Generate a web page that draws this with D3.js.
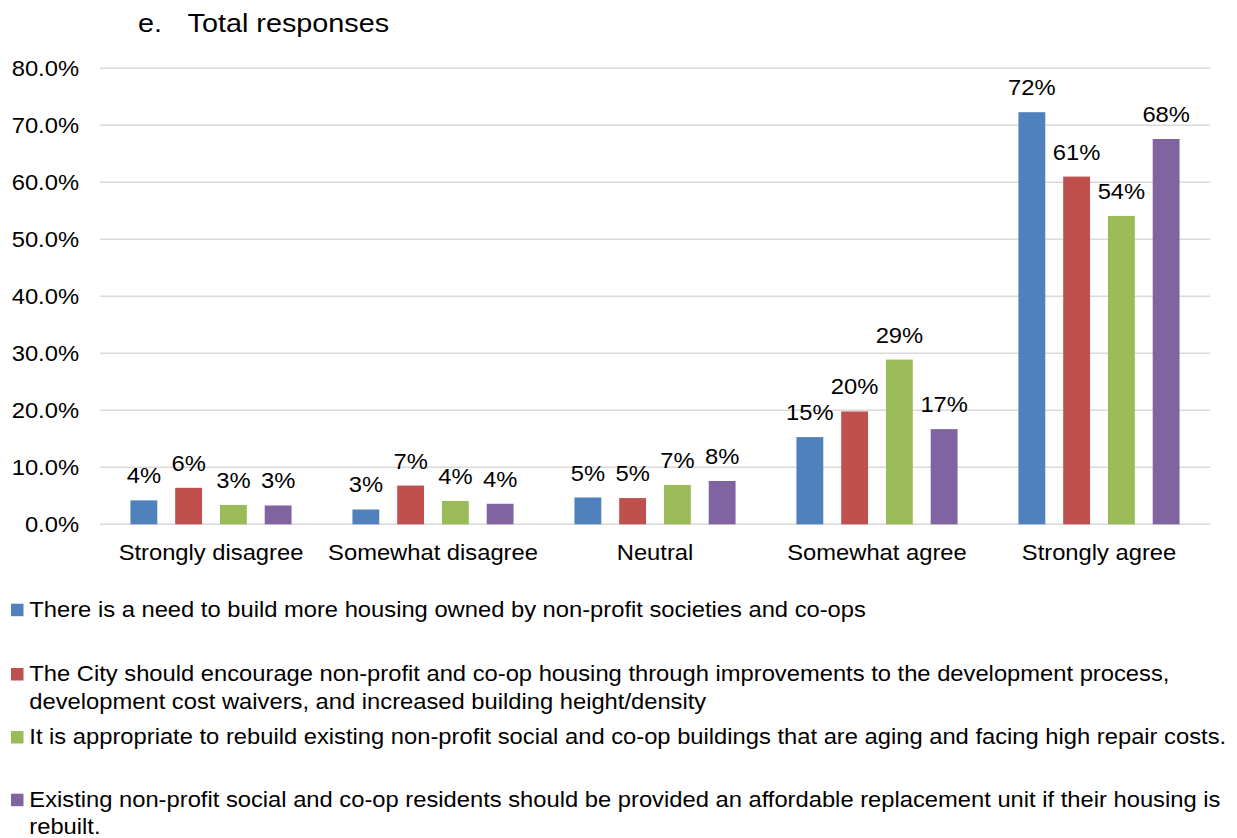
<!DOCTYPE html>
<html>
<head>
<meta charset="utf-8">
<script src="https://cdn.jsdelivr.net/npm/d3@7"></script>
<style>
  html, body { margin: 0; padding: 0; background: #fff; }
  svg { display: block; }
  text { font-family: "Liberation Sans", Arial, sans-serif; fill: #000; }
</style>
</head>
<body>
<svg id="chart" width="1237" height="838"></svg>
<script>
// Response categories along the x axis
const categories = ["Strongly disagree", "Somewhat disagree", "Neutral", "Somewhat agree", "Strongly agree"];

// Share of responses (%) per statement, one array per statement
const needMoreHousing   = [4.2, 2.6, 4.7, 15.3, 72.3];
const encourageCity     = [6.4, 6.8, 4.6, 19.8, 61.0];
const rebuildAging      = [3.4, 4.1, 6.9, 28.9, 54.1];
const replacementUnits  = [3.3, 3.6, 7.6, 16.7, 67.6];

// Legend wording, split into the lines it wraps to
const legendLines = [
  ["There is a need to build more housing owned by non-profit societies and co-ops"],
  ["The City should encourage non-profit and co-op housing through improvements to the development process,",
   "development cost waivers, and increased building height/density"],
  ["It is appropriate to rebuild existing non-profit social and co-op buildings that are aging and facing high repair costs."],
  ["Existing non-profit social and co-op residents should be provided an affordable replacement unit if their housing is",
   "rebuilt."]
];

const yTicks = [0, 10, 20, 30, 40, 50, 60, 70, 80];
const colors = ["#4F81BD", "#C0504D", "#9BBB59", "#8064A2"];

const seriesKeys = ["need", "encourage", "rebuild", "replace"];
const seriesValues = [needMoreHousing, encourageCity, rebuildAging, replacementUnits];

const table = categories.map((c, i) => {
  const row = { category: c };
  seriesKeys.forEach((k, j) => row[k] = seriesValues[j][i]);
  return row;
});

const svg = d3.select("#chart");
const stretch = 1.08;   // slightly wide type
const fontSize = 22;

const plot = { left: 100, right: 1210, top: 68.3, bottom: 524.3 };

const x0 = d3.scaleBand().domain(categories).range([plot.left, plot.right]).padding(0);
const x1 = d3.scaleBand().domain(seriesKeys).range([0, x0.bandwidth()])
  .paddingInner(0.4).paddingOuter(0.68);
const y = d3.scaleLinear().domain([0, 80]).range([plot.bottom, plot.top]);

// Title
svg.append("text")
  .attr("transform", `translate(138,32.3) scale(1.13,1)`)
  .style("font-size", "25.5px")
  .text("e.");
svg.append("text")
  .attr("transform", `translate(187.5,32.3) scale(1.13,1)`)
  .style("font-size", "25.5px")
  .text("Total responses");

// Horizontal gridlines
svg.append("g")
  .selectAll("line")
  .data(yTicks)
  .join("line")
  .attr("x1", plot.left).attr("x2", plot.right)
  .attr("y1", d => y(d)).attr("y2", d => y(d))
  .attr("stroke", "#D9D9D9")
  .attr("stroke-width", 1.5);

// Y axis tick labels
const yAxis = d3.axisLeft(y).tickValues(yTicks).tickSize(0).tickPadding(0)
  .tickFormat(d => d3.format(".1f")(d) + "%");
const yG = svg.append("g").attr("transform", `translate(79,0)`).call(yAxis);
yG.select(".domain").remove();
yG.selectAll(".tick text")
  .attr("x", null).attr("dy", null)
  .attr("transform", `translate(0,7.5) scale(${stretch},1)`)
  .style("font-size", fontSize + "px")
  .style("font-family", '"Liberation Sans", Arial, sans-serif')
  .attr("fill", "#000");

// X axis category labels
const xAxis = d3.axisBottom(x0).tickSize(0).tickPadding(0);
const xG = svg.append("g").attr("transform", `translate(0,${plot.bottom})`).call(xAxis);
xG.select(".domain").remove();
xG.selectAll(".tick text")
  .attr("y", null).attr("dy", null)
  .attr("transform", `translate(0,35.5) scale(${stretch},1)`)
  .style("font-size", fontSize + "px")
  .style("font-family", '"Liberation Sans", Arial, sans-serif')
  .attr("fill", "#000");

// Bars
const groups = svg.append("g")
  .selectAll("g")
  .data(table)
  .join("g")
  .attr("transform", d => `translate(${x0(d.category)},0)`);

groups.selectAll("rect")
  .data(d => seriesKeys.map((k, j) => ({ key: k, value: d[k], color: colors[j] })))
  .join("rect")
  .attr("x", d => x1(d.key))
  .attr("width", x1.bandwidth())
  .attr("y", d => y(d.value))
  .attr("height", d => y(0) - y(d.value))
  .attr("fill", d => d.color);

// Value labels above bars
groups.selectAll("text.val")
  .data(d => seriesKeys.map(k => ({ key: k, value: d[k] })))
  .join("text")
  .attr("class", "val")
  .attr("text-anchor", "middle")
  .attr("transform", d => `translate(${x1(d.key) + x1.bandwidth() / 2},${y(d.value) - 17}) scale(${stretch},1)`)
  .style("font-size", fontSize + "px")
  .text(d => Math.round(d.value) + "%");

// Legend
const legendBaselines = [616.7, 681, 744, 806.7];
const legend = svg.append("g")
  .selectAll("g")
  .data(legendLines)
  .join("g")
  .attr("transform", (d, i) => `translate(0,${legendBaselines[i]})`);

legend.append("rect")
  .attr("x", 11).attr("y", -13)
  .attr("width", 12.5).attr("height", 12.5)
  .attr("fill", (d, i) => colors[i]);

legend.selectAll("text")
  .data(d => d)
  .join("text")
  .attr("transform", (d, i) => `translate(29.3,${i * 27.5}) scale(${stretch},1)`)
  .style("font-size", fontSize + "px")
  .text(d => d);
</script>
</body>
</html>
